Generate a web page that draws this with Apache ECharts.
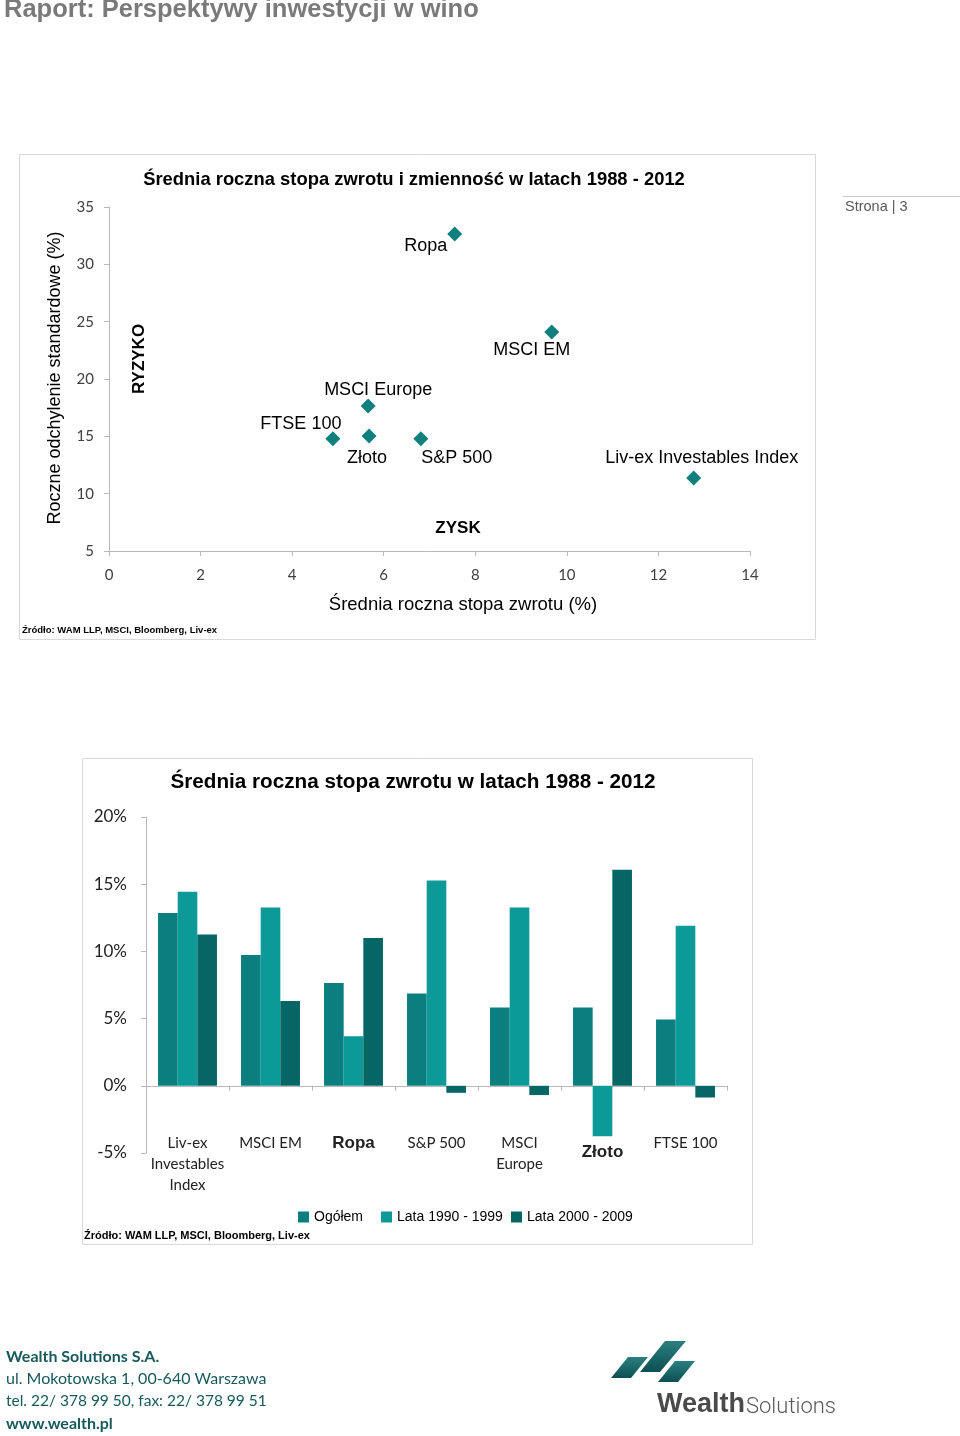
<!DOCTYPE html>
<html><head><meta charset="utf-8">
<script src="https://cdn.jsdelivr.net/npm/echarts@6/dist/echarts.min.js"></script>
<style>html,body{margin:0;padding:0;background:#fff}#c{width:960px;height:1436px}</style>
</head><body><div id="c"></div>
<script>
// ---- data ----
const scatterNames = ['Ropa', 'MSCI EM', 'MSCI Europe', 'FTSE 100', 'Złoto', 'S&P 500', 'Liv-ex Investables Index'];
const scatterReturn = [7.55, 9.67, 5.66, 4.89, 5.68, 6.81, 12.77];
const scatterRisk = [32.65, 24.1, 17.65, 14.8, 15.03, 14.8, 11.37];
const scatterXTicks = [0, 2, 4, 6, 8, 10, 12, 14];
const scatterYTicks = [5, 10, 15, 20, 25, 30, 35];

const barCategories = ['Liv-ex\nInvestables\nIndex', 'MSCI EM', 'Ropa', 'S&P 500', 'MSCI\nEurope', 'Złoto', 'FTSE 100'];
const seriesNames = ['Ogółem', 'Lata 1990 - 1999', 'Lata 2000 - 2009'];
const ogolem = [12.85, 9.73, 7.65, 6.86, 5.82, 5.82, 4.93];
const lata1990 = [14.43, 13.27, 3.69, 15.27, 13.27, -3.75, 11.9];
const lata2000 = [11.25, 6.31, 10.99, -0.52, -0.69, 16.08, -0.87];
const barYTicks = [-5, 0, 5, 10, 15, 20];

// ---- styles ----
const ARIAL = "'Liberation Sans', Arial, sans-serif";
const CALIBRI = "Lato, 'Open Sans', sans-serif";
const labelOffsets = {
  'Ropa': [-29, 12], 'MSCI EM': [-20, 18], 'MSCI Europe': [10, -16], 'FTSE 100': [-32, -15],
  'Złoto': [-2, 22], 'S&P 500': [36, 19], 'Liv-ex Investables Index': [8, -20]
};
const colors = ['#0b7f7f', '#0c9a98', '#066666'];
const legendLefts = [293, 376, 506];
const axisGray = '#b8b8b8';

const chart = echarts.init(document.getElementById('c'), null, {renderer: 'canvas'});

function txt(text, x, y, font, fill, align, rot) {
  const el = {type: 'text', x: x, y: y, silent: true,
    style: {text: text, font: font, fill: fill, textAlign: align || 'left', textVerticalAlign: 'middle'}};
  if (rot) el.rotation = rot;
  return el;
}
const logoFill = function () {
  return new echarts.graphic.LinearGradient(0, 0, 0, 1, [{offset: 0, color: '#2b7f80'}, {offset: 1, color: '#0d4f52'}]);
};

const graphics = [
  {type: 'rect', shape: {x: 19.5, y: 154.5, width: 796, height: 485}, style: {fill: 'none', stroke: '#d9d9d9', lineWidth: 1}, silent: true},
  {type: 'rect', shape: {x: 82.5, y: 758.5, width: 670, height: 486}, style: {fill: 'none', stroke: '#d9d9d9', lineWidth: 1}, silent: true},
  txt('Raport: Perspektywy inwestycji w wino', 4, 10, 'bold 25.5px ' + ARIAL, '#7a7a7a'),
  {type: 'line', shape: {x1: 843, y1: 196.5, x2: 960, y2: 196.5}, style: {stroke: '#c8c8c8', lineWidth: 1}, silent: true},
  txt('Strona | 3', 845, 207, '14.5px ' + ARIAL, '#595959'),
  // scatter chart texts
  txt('Średnia roczna stopa zwrotu i zmienność w latach 1988 - 2012', 414, 180, 'bold 18.4px ' + ARIAL, '#000', 'center'),
  txt('RYZYKO', 139, 359, 'bold 17px ' + ARIAL, '#000', 'center', Math.PI / 2),
  txt('ZYSK', 458, 528, 'bold 17px ' + ARIAL, '#000', 'center'),
  txt('Roczne odchylenie standardowe (%)', 55, 378, '18px ' + ARIAL, '#000', 'center', Math.PI / 2),
  txt('Średnia roczna stopa zwrotu (%)', 463, 605, '18.5px ' + ARIAL, '#000', 'center'),
  txt('Źródło: WAM LLP, MSCI, Bloomberg, Liv-ex', 22, 630, 'bold 9.5px ' + ARIAL, '#000'),
  // bar chart texts
  txt('Średnia roczna stopa zwrotu w latach 1988 - 2012', 413, 782, 'bold 20.7px ' + ARIAL, '#000', 'center'),
  txt('Źródło: WAM LLP, MSCI, Bloomberg, Liv-ex', 84, 1236, 'bold 11px ' + ARIAL, '#000'),
  // footer
  txt('Wealth Solutions S.A.', 6, 1357, 'bold 16px ' + CALIBRI, '#17595c'),
  txt('ul. Mokotowska 1, 00-640 Warszawa', 6, 1379, '16px ' + CALIBRI, '#17595c'),
  txt('tel. 22/ 378 99 50, fax: 22/ 378 99 51', 6, 1401, '15.5px ' + CALIBRI, '#17595c'),
  txt('www.wealth.pl', 6, 1424, 'bold 16px ' + CALIBRI, '#17595c'),
  // logo
  {type: 'polygon', silent: true, shape: {points: [[611, 1378], [631, 1378], [648, 1357], [628, 1357]]}, style: {fill: logoFill()}},
  {type: 'polygon', silent: true, shape: {points: [[640, 1372], [660, 1372], [686, 1341], [665, 1341]]}, style: {fill: logoFill()}},
  {type: 'polygon', silent: true, shape: {points: [[658, 1382], [678, 1382], [695, 1361], [675, 1361]]}, style: {fill: logoFill()}},
  txt('Wealth', 657, 1405, 'bold 27px ' + ARIAL, '#4a4a4a'),
  txt('Solutions', 746, 1407, '300 22px Roboto, sans-serif', '#5a5a5a')
];

const option = {
  backgroundColor: '#ffffff',
  animation: false,
  textStyle: {fontFamily: ARIAL},
  grid: [
    {left: 109, top: 207, width: 641, height: 344, containLabel: false},
    {left: 146, top: 817, width: 581, height: 336, containLabel: false}
  ],
  legend: seriesNames.map(function (n, i) {
    return {
      left: legendLefts[i], top: 1205, itemWidth: 11, itemHeight: 11,
      icon: 'rect', data: [n], selectedMode: false,
      textStyle: {fontFamily: ARIAL, fontSize: 14, color: '#000'}
    };
  }),
  xAxis: [
    {
      gridIndex: 0, type: 'value', min: scatterXTicks[0], max: scatterXTicks[scatterXTicks.length - 1], interval: 2,
      axisLine: {show: true, lineStyle: {color: axisGray}},
      axisTick: {show: true, length: 5, lineStyle: {color: axisGray}},
      axisLabel: {margin: 17, fontFamily: CALIBRI, fontSize: 15, color: '#404040'},
      splitLine: {show: false}
    },
    {
      gridIndex: 1, type: 'category', data: barCategories,
      axisLine: {show: true, onZero: true, lineStyle: {color: axisGray}},
      axisTick: {show: true, length: 5, lineStyle: {color: axisGray}},
      axisLabel: {
        margin: -20, interval: 0, fontFamily: CALIBRI, fontSize: 15, color: '#222', lineHeight: 21,
        formatter: function (v) {
          if (v === 'Ropa') return '{b|Ropa}';
          if (v === 'Złoto') return '{z|Złoto}';
          return v;
        },
        rich: {
          b: {fontFamily: ARIAL, fontWeight: 'bold', fontSize: 17, color: '#222', lineHeight: 21},
          z: {fontFamily: ARIAL, fontWeight: 'bold', fontSize: 17, color: '#222', lineHeight: 38}
        }
      },
      splitLine: {show: false}
    }
  ],
  yAxis: [
    {
      gridIndex: 0, type: 'value', min: scatterYTicks[0], max: scatterYTicks[scatterYTicks.length - 1], interval: 5,
      axisLine: {show: true, lineStyle: {color: axisGray}},
      axisTick: {show: true, length: 5, lineStyle: {color: axisGray}},
      axisLabel: {margin: 15, fontFamily: CALIBRI, fontSize: 15, color: '#404040'},
      splitLine: {show: false}
    },
    {
      gridIndex: 1, type: 'value', min: barYTicks[0], max: barYTicks[barYTicks.length - 1], interval: 5,
      axisLine: {show: true, lineStyle: {color: axisGray}},
      axisTick: {show: true, length: 5, lineStyle: {color: axisGray}},
      axisLabel: {margin: 19, fontFamily: CALIBRI, fontSize: 17, color: '#222', formatter: '{value}%'},
      splitLine: {show: false}
    }
  ],
  series: [
    {
      type: 'scatter', xAxisIndex: 0, yAxisIndex: 0, symbol: 'diamond', symbolSize: 15,
      itemStyle: {color: '#10807e', opacity: 1},
      label: {show: true, position: 'inside', formatter: '{b}', color: '#000', fontFamily: ARIAL, fontSize: 18},
      data: scatterNames.map(function (n, i) {
        return {name: n, value: [scatterReturn[i], scatterRisk[i]], label: {offset: labelOffsets[n]}};
      })
    },
    {type: 'bar', name: seriesNames[0], xAxisIndex: 1, yAxisIndex: 1, data: ogolem, barGap: '0%', barCategoryGap: '29%', itemStyle: {color: colors[0]}},
    {type: 'bar', name: seriesNames[1], xAxisIndex: 1, yAxisIndex: 1, data: lata1990, barGap: '0%', barCategoryGap: '29%', itemStyle: {color: colors[1]}},
    {type: 'bar', name: seriesNames[2], xAxisIndex: 1, yAxisIndex: 1, data: lata2000, barGap: '0%', barCategoryGap: '29%', itemStyle: {color: colors[2]}}
  ],
  graphic: graphics
};
chart.setOption(option);
</script></body></html>
